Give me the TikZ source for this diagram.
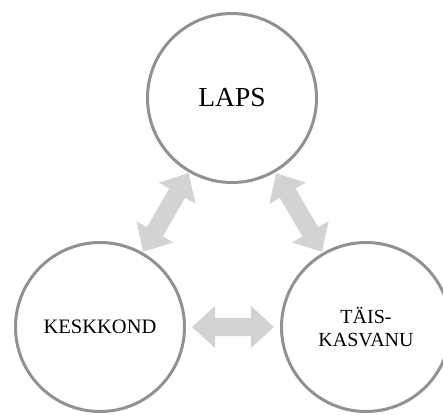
\documentclass[tikz,border=0pt]{standalone}
\usepackage{fontspec}
\setmainfont{Liberation Serif}
\usetikzlibrary{shapes.arrows,calc}
\definecolor{ringgray}{RGB}{145,145,145}
\definecolor{arrowgray}{RGB}{211,211,211}
\begin{document}
\begin{tikzpicture}[x=1pt,y=-1pt,
  ring/.style={circle, draw=ringgray, line width=3pt, minimum size=169pt, inner sep=0pt, align=center},
  dblarrow/.style={double arrow, fill=arrowgray, draw=none, inner xsep=0pt, inner ysep=9pt,
    minimum width=42pt, double arrow head extend=12pt, double arrow tip angle=85, sloped}]
\useasboundingbox (0,0) rectangle (443,414);
\clip (0,0) rectangle (443,414);
\node[ring, font=\fontsize{27.5}{30}\selectfont] (laps) at (232,98) {LAPS};
\node[ring, font=\fontsize{20.5}{23}\selectfont] (kesk) at (100,327) {KESKKOND};
\node[ring, font=\fontsize{20}{22.5}\selectfont] (tais) at (366,327) {TÄIS-\\KASVANU};
\path (laps.center) -- (kesk.center) node[dblarrow, midway, minimum height=91pt] (a1) {};
\path (laps.center) -- (tais.center) node[dblarrow, midway, minimum height=91pt] (a2) {};
\path (kesk.center) -- (tais.center) node[dblarrow, midway, minimum height=82pt] (a3) {};
\end{tikzpicture}
\end{document}
